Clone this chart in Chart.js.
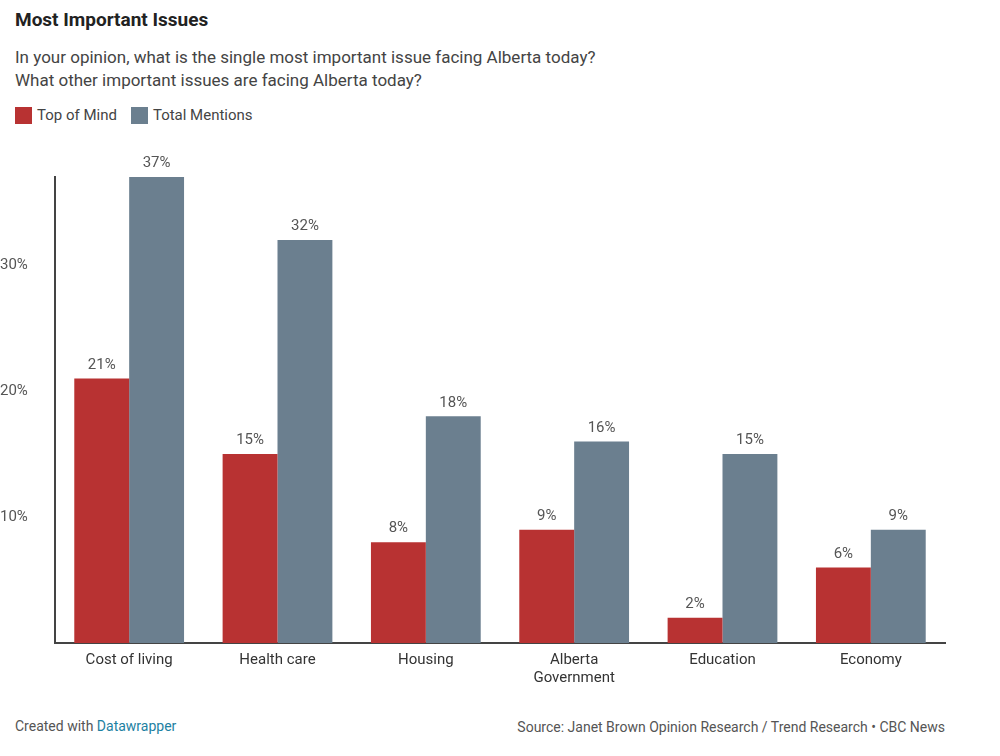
<!DOCTYPE html>
<html><head><meta charset="utf-8">
<script src="https://cdn.jsdelivr.net/npm/chart.js@4"></script>
<style>
body{margin:0;width:1000px;height:756px;background:#fff;font-family:Roboto,"Open Sans",sans-serif;position:relative;overflow:hidden}
#t{position:absolute;left:15px;top:8px;font-size:19px;font-weight:bold;color:#222}
#s{position:absolute;left:15px;top:46px;font-size:17px;line-height:23px;color:#444}
#lg{position:absolute;left:15px;top:106px;font-size:15px;color:#444;display:flex;gap:14px}
#lg span{display:inline-flex;align-items:center}
#lg i{display:inline-block;width:17px;height:17px;margin-right:5px}
#box{position:absolute;left:0;top:140px;width:1000px;height:550px}
#f1{position:absolute;left:15px;top:718px;font-size:14px;color:#555}
#f1 a{color:#1d81a2;text-decoration:none}
#f2{position:absolute;right:55px;top:719px;font-size:14px;color:#555}
</style></head><body>
<div id="t">Most Important Issues</div>
<div id="s">In your opinion, what is the single most important issue facing Alberta today?<br>What other important issues are facing Alberta today?</div>
<div id="lg"><span><i style="background:#b83232"></i>Top of Mind</span><span><i style="background:#6b7f8f"></i>Total Mentions</span></div>
<div id="box"><canvas id="c"></canvas></div>
<div id="f1">Created with <a>Datawrapper</a></div>
<div id="f2">Source: Janet Brown Opinion Research / Trend Research • CBC News</div>
<script>
const categories=["Cost of living","Health care","Housing",["Alberta","Government"],"Education","Economy"];
const topOfMind=[21,15,8,9,2,6];
const totalMentions=[37,32,18,16,15,9];
const yTicks=[10,20,30];
const labelPlugin={id:'lbl',afterDatasetsDraw(ch){const ctx=ch.ctx;ctx.save();ctx.font='15px Roboto';ctx.fillStyle='#555';ctx.textAlign='center';ctx.textBaseline='bottom';
ch.data.datasets.forEach((d,i)=>{ch.getDatasetMeta(i).data.forEach((b,j)=>{ctx.fillText(d.data[j]+'%',b.x,b.y-6);});});ctx.restore();}};
new Chart(document.getElementById('c'),{type:'bar',
data:{labels:categories,datasets:[
{label:'Top of Mind',data:topOfMind,backgroundColor:'#b83232'},
{label:'Total Mentions',data:totalMentions,backgroundColor:'#6b7f8f'}]},
options:{responsive:true,maintainAspectRatio:false,animation:false,
layout:{padding:{top:37,right:55,left:0,bottom:0}},
categoryPercentage:0.74,barPercentage:1,
plugins:{legend:{display:false},tooltip:{enabled:false}},
scales:{
x:{grid:{display:false,drawTicks:false},border:{display:true,color:'#444',width:2},
ticks:{color:'#333',font:{size:15,family:'Roboto'},padding:8,maxRotation:0},
afterFit(s){s.height=47;}},
y:{min:0,max:37,grid:{display:false,drawTicks:false},border:{display:true,color:'#444',width:2},
afterBuildTicks(s){s.ticks=yTicks.map(v=>({value:v}));},
ticks:{color:'#555',font:{size:15,family:'Roboto'},crossAlign:'far',padding:10,callback:v=>v+'%'},
afterFit(s){s.width=55;}}}},
plugins:[labelPlugin]});
</script></body></html>
